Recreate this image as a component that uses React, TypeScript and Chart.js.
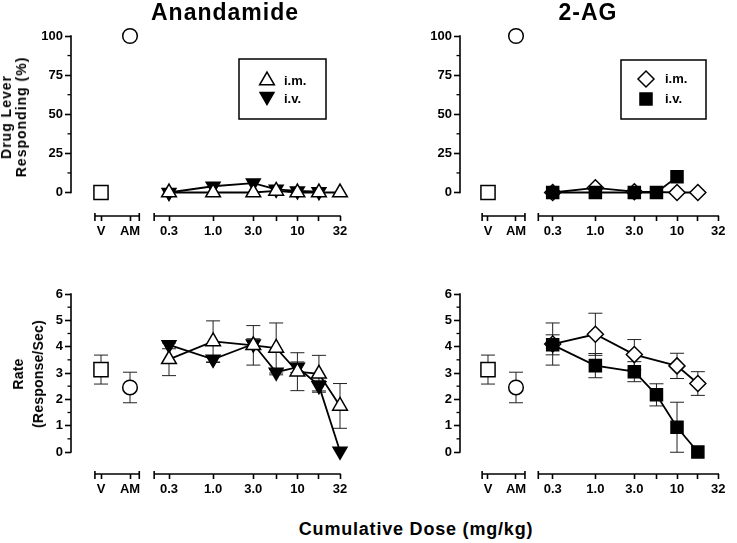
import React, { useEffect, useRef } from 'react';
import { Chart, registerables } from 'chart.js';
import { drawPoint } from 'chart.js/helpers';

Chart.register(...registerables);

const FONT = "'Liberation Sans', Arial, Helvetica, sans-serif";
Chart.defaults.font.family = FONT;
Chart.defaults.color = '#000';

// ---------------- data ----------------
const controlLabels = ['V', 'AM'];
const doseTickValues = [0.3, 1, 3, 5.6, 10, 18, 32];
const doseTickLabels = ['0.3', '1.0', '3.0', '', '10', '', '32'];
const drugTickValues = [0, 25, 50, 75, 100];
const drugMinorTicks = [12.5, 37.5, 62.5, 87.5];
const rateTickValues = [0, 1, 2, 3, 4, 5, 6];
const rateMinorTicks = [0.5, 1.5, 2.5, 3.5, 4.5, 5.5];

const controlDrug = [0, 100];
const controlRate = [3.13, 2.45];
const controlRateSem = [0.55, 0.58];

// Anandamide
const aeaImDoses = [0.3, 1, 3, 5.6, 10, 18, 32];
const aeaImDrug = [0, 0, 0, 1, 0, 0, 0];
const aeaImRate = [3.52, 4.2, 4.05, 3.95, 3.05, 2.97, 1.75];
const aeaImRateSem = [0.62, 0.78, 0.75, 0.95, 0.72, 0.7, 0.85];
const aeaIvDrugDoses = [0.3, 1, 3, 5.6, 10, 18];
const aeaIvDrug = [0, 4, 6, 2, 1, 0.5];
const aeaIvRateDoses = [0.3, 1, 3, 5.6, 10, 18, 32];
const aeaIvRate = [4.07, 3.52, 4.1, 3.03, 3.22, 2.52, 0.03];
const aeaIvRateSem = [0.15, 0.12, 0.2, 0.1, 0.2, 0.2, 0];

// 2-AG
const agImDoses = [0.3, 1, 3, 10, 18];
const agImDrug = [0, 3, 0.5, 0, 0];
const agImRate = [4.1, 4.47, 3.7, 3.27, 2.6];
const agImRateSem = [0.8, 0.8, 0.57, 0.48, 0.45];
const agIvDrugDoses = [0.3, 1, 3, 5.6, 10];
const agIvDrug = [0, 0, 0, 0, 10];
const agIvRateDoses = [0.3, 1, 3, 5.6, 10, 18];
const agIvRate = [4.07, 3.28, 3.05, 2.17, 0.94, 0];
const agIvRateSem = [0.38, 0.46, 0.38, 0.42, 0.95, 0];

// ---------------- styles / layout ----------------
const markerAeaIm = { style: 'triangle', rotation: 0, radius: 8.5, fill: '#ffffff' };
const markerAeaIv = { style: 'triangle', rotation: 180, radius: 8, fill: '#000000' };
const markerAgIm = { style: 'rectRot', rotation: 0, radius: 8, fill: '#ffffff' };
const markerAgIv = { style: 'rect', rotation: 0, radius: 8.5, fill: '#000000' };
const controlMarkers = [
  { style: 'rect', radius: 10 },
  { style: 'circle', radius: 7.3 },
];

const colLeft = { canvasLeft: 0, width: 368, yAxisX: 71, vPx: 101, amPx: 130, splitPx: 146, dose03Px: 169, dose32Px: 340, chartRight: 350 };
const colRight = { canvasLeft: 368, width: 369, yAxisX: 460, vPx: 489, amPx: 518, splitPx: 535, dose03Px: 556, dose32Px: 727.5, chartRight: 735 };
const rowTop = { canvasTop: 0, height: 250, yTopPx: 36, yZeroPx: 192.5, xAxisPx: 216 };
const rowBottom = { canvasTop: 250, height: 262, yTopPx: 294, yZeroPx: 452, xAxisPx: 474 };

const controlAxisRange = [-0.21, 1.32];
const doseAxisStart = 0.2;

const legendLeft = { box: [239, 59, 326, 119], markerX: 267, textX: 284, markerY: [80.5, 96.5], textY: [81, 99.5] };
const legendRight = { box: [621, 60, 706, 119], markerX: 646, textX: 665, markerY: [79, 99], textY: [79.5, 99.5] };

const panels: any[] = [
  {
    key: 'aea-drug', col: colLeft, row: rowTop, yTicks: drugTickValues, yMinor: drugMinorTicks,
    control: controlDrug, controlSem: null, legend: legendLeft,
    series: [
      { label: 'i.m.', doses: aeaImDoses, values: aeaImDrug, sem: null, marker: markerAeaIm, order: 0 },
      { label: 'i.v.', doses: aeaIvDrugDoses, values: aeaIvDrug, sem: null, marker: markerAeaIv, order: 1 },
    ],
  },
  {
    key: 'ag-drug', col: colRight, row: rowTop, yTicks: drugTickValues, yMinor: drugMinorTicks,
    control: controlDrug, controlSem: null, legend: legendRight,
    series: [
      { label: 'i.m.', doses: agImDoses, values: agImDrug, sem: null, marker: markerAgIm, order: 1 },
      { label: 'i.v.', doses: agIvDrugDoses, values: agIvDrug, sem: null, marker: markerAgIv, order: 0 },
    ],
  },
  {
    key: 'aea-rate', col: colLeft, row: rowBottom, yTicks: rateTickValues, yMinor: rateMinorTicks,
    control: controlRate, controlSem: controlRateSem, legend: null,
    series: [
      { label: 'i.m.', doses: aeaImDoses, values: aeaImRate, sem: aeaImRateSem, marker: markerAeaIm, order: 0 },
      { label: 'i.v.', doses: aeaIvRateDoses, values: aeaIvRate, sem: aeaIvRateSem, marker: markerAeaIv, order: 1 },
    ],
  },
  {
    key: 'ag-rate', col: colRight, row: rowBottom, yTicks: rateTickValues, yMinor: rateMinorTicks,
    control: controlRate, controlSem: controlRateSem, legend: null,
    series: [
      { label: 'i.m.', doses: agImDoses, values: agImRate, sem: agImRateSem, marker: markerAgIm, order: 1 },
      { label: 'i.v.', doses: agIvRateDoses, values: agIvRate, sem: agIvRateSem, marker: markerAgIv, order: 0 },
    ],
  },
];

function makeDecor(p: any) {
  const cl = p.col.canvasLeft;
  const ct = p.row.canvasTop;
  return {
    id: 'decor',
    beforeDatasetsDraw(chart: any) {
      const ctx = chart.ctx;
      const ys = chart.scales.y;
      const xc = chart.scales.xc;
      const xd = chart.scales.xd;
      const area = chart.chartArea;
      const seg = (x1: number, y1: number, x2: number, y2: number) => {
        ctx.beginPath();
        ctx.moveTo(x1, y1);
        ctx.lineTo(x2, y2);
        ctx.stroke();
      };
      ctx.save();
      ctx.strokeStyle = '#000';
      ctx.lineWidth = 1.6;
      const ax = area.left;
      const last = p.yTicks[p.yTicks.length - 1];
      seg(ax, ys.getPixelForValue(p.yTicks[0]) + 0.8, ax, ys.getPixelForValue(last) - 0.8);
      ctx.lineWidth = 1.3;
      p.yMinor.forEach((v: number) => {
        const py = ys.getPixelForValue(v);
        seg(ax - 3.5, py, ax, py);
      });
      ctx.lineWidth = 1.6;
      const by = area.bottom;
      const c1 = xc.getPixelForValue(controlAxisRange[0]);
      const c2 = xc.getPixelForValue(controlAxisRange[1]);
      seg(c1, by, c2, by);
      seg(c1, by - 3, c1, by + 5);
      seg(c2, by - 3, c2, by + 5);
      const d1 = xd.getPixelForValue(doseAxisStart);
      const d2 = xd.getPixelForValue(doseTickValues[doseTickValues.length - 1]);
      seg(d1, by, d2 + 0.8, by);
      seg(d1, by - 3, d1, by + 5);

      // error bars (SEM)
      ctx.lineWidth = 1;
      ctx.strokeStyle = '#222';
      chart.data.datasets.forEach((ds: any, i: number) => {
        const sem = ds.sem;
        if (!sem) return;
        const meta = chart.getDatasetMeta(i);
        meta.data.forEach((el: any, j: number) => {
          const e = sem[j];
          if (!e) return;
          const v = ds.data[j].y;
          const t = ys.getPixelForValue(v + e);
          const b = ys.getPixelForValue(v - e);
          seg(el.x, t, el.x, b);
          seg(el.x - 7, t, el.x + 7, t);
          seg(el.x - 7, b, el.x + 7, b);
        });
      });
      ctx.restore();
    },
    afterDatasetsDraw(chart: any) {
      const lg = p.legend;
      if (!lg) return;
      const ctx = chart.ctx;
      ctx.save();
      ctx.lineWidth = 1.5;
      ctx.strokeStyle = '#000';
      ctx.strokeRect(lg.box[0] - cl, lg.box[1] - ct, lg.box[2] - lg.box[0], lg.box[3] - lg.box[1]);
      const items = chart.data.datasets.filter((d: any) => d.inLegend);
      items.forEach((ds: any, k: number) => {
        ctx.fillStyle = ds.pointBackgroundColor;
        ctx.strokeStyle = '#000';
        ctx.lineWidth = ds.pointBorderWidth;
        drawPoint(ctx, {
          pointStyle: ds.pointStyle,
          rotation: ds.pointRotation,
          radius: ds.pointRadius,
          borderWidth: ds.pointBorderWidth,
        } as any, lg.markerX - cl, lg.markerY[k] - ct);
        ctx.fillStyle = '#000';
        ctx.font = `bold 13px ${FONT}`;
        ctx.textAlign = 'left';
        ctx.textBaseline = 'middle';
        ctx.fillText(ds.label, lg.textX - cl, lg.textY[k] - ct);
      });
      ctx.restore();
    },
  };
}

function buildConfig(p: any): any {
  const { col, row } = p;
  const cl = col.canvasLeft;
  const ct = row.canvasTop;
  const yMax = p.yTicks[p.yTicks.length - 1];
  const yPer = (row.yZeroPx - row.yTopPx) / yMax;
  const yMin = -(row.xAxisPx - row.yZeroPx) / yPer;
  const cPer = col.amPx - col.vPx;
  const cMin = -(col.vPx - col.yAxisX) / cPer;
  const cMax = (col.splitPx - col.vPx) / cPer;
  const lo = Math.log10(doseTickValues[0]);
  const hi = Math.log10(doseTickValues[doseTickValues.length - 1]);
  const dPer = (col.dose32Px - col.dose03Px) / (hi - lo);
  const dMin = Math.pow(10, lo - (col.dose03Px - col.splitPx) / dPer);
  const dMax = Math.pow(10, hi + (col.chartRight - col.dose32Px) / dPer);
  const xH = ct + row.height - row.xAxisPx;
  const tickFont = { family: FONT, size: 13, weight: 'bold' };
  const xGrid = { drawOnChartArea: false, drawTicks: true, tickLength: 5, tickColor: '#000', tickWidth: 1.6 };

  const datasets: any[] = p.series.map((s: any) => ({
    type: 'line',
    label: s.label,
    xAxisID: 'xd',
    yAxisID: 'y',
    data: s.doses.map((d: number, i: number) => ({ x: d, y: s.values[i] })),
    sem: s.sem,
    inLegend: true,
    order: s.order,
    borderColor: '#000',
    borderWidth: 1.8,
    tension: 0,
    fill: false,
    clip: false,
    pointStyle: s.marker.style,
    pointRotation: s.marker.rotation,
    pointRadius: s.marker.radius,
    pointHoverRadius: s.marker.radius,
    pointBackgroundColor: s.marker.fill,
    pointBorderColor: '#000',
    pointBorderWidth: 1.5,
    pointHoverBorderWidth: 1.5,
  }));
  datasets.push({
    type: 'line',
    label: 'controls',
    xAxisID: 'xc',
    yAxisID: 'y',
    data: p.control.map((v: number, i: number) => ({ x: i, y: v })),
    sem: p.controlSem,
    inLegend: false,
    order: 5,
    showLine: false,
    clip: false,
    borderColor: '#000',
    pointStyle: controlMarkers.map((m) => m.style),
    pointRadius: controlMarkers.map((m) => m.radius),
    pointHoverRadius: controlMarkers.map((m) => m.radius),
    pointBackgroundColor: '#fff',
    pointBorderColor: '#000',
    pointBorderWidth: 1.5,
  });

  return {
    type: 'line',
    data: { datasets },
    options: {
      animation: false,
      responsive: false,
      devicePixelRatio: 1,
      events: [],
      layout: {
        padding: { top: row.yTopPx - ct, bottom: 0, left: 0, right: cl + col.width - col.chartRight },
      },
      plugins: { legend: { display: false }, tooltip: { enabled: false }, title: { display: false } },
      scales: {
        y: {
          type: 'linear',
          position: 'left',
          min: yMin,
          max: yMax,
          bounds: 'data',
          afterBuildTicks: (s: any) => { s.ticks = p.yTicks.map((v: number) => ({ value: v })); },
          afterFit: (s: any) => { s.width = col.yAxisX - cl; s.paddingTop = 0; s.paddingBottom = 0; },
          ticks: { font: tickFont, color: '#000', padding: 2, autoSkip: false, callback: (v: any) => String(v) },
          grid: { drawOnChartArea: false, drawTicks: true, tickLength: 6, tickColor: '#000', tickWidth: 1.6 },
          border: { display: false },
        },
        xc: {
          type: 'linear',
          position: 'bottom',
          stack: 'x',
          stackWeight: col.splitPx - col.yAxisX,
          min: cMin,
          max: cMax,
          bounds: 'data',
          afterBuildTicks: (s: any) => { s.ticks = controlLabels.map((_, i) => ({ value: i })); },
          afterFit: (s: any) => { s.height = xH; s.paddingLeft = 0; s.paddingRight = 0; },
          ticks: { font: tickFont, color: '#000', padding: 3, autoSkip: false, maxRotation: 0, minRotation: 0, callback: (_v: any, i: number) => controlLabels[i] },
          grid: xGrid,
          border: { display: false },
        },
        xd: {
          type: 'logarithmic',
          position: 'bottom',
          stack: 'x',
          stackWeight: col.chartRight - col.splitPx,
          min: dMin,
          max: dMax,
          bounds: 'data',
          afterBuildTicks: (s: any) => { s.ticks = doseTickValues.map((v) => ({ value: v })); },
          afterFit: (s: any) => { s.height = xH; s.paddingLeft = 0; s.paddingRight = 0; },
          ticks: { font: tickFont, color: '#000', padding: 3, autoSkip: false, maxRotation: 0, minRotation: 0, callback: (_v: any, i: number) => doseTickLabels[i] },
          grid: xGrid,
          border: { display: false },
        },
      },
    },
    plugins: [makeDecor(p)],
  };
}

function Panel({ p }: { p: any }) {
  const ref = useRef<HTMLCanvasElement>(null);
  useEffect(() => {
    if (!ref.current) return;
    const chart = new Chart(ref.current, buildConfig(p));
    return () => chart.destroy();
  }, [p]);
  return (
    <canvas
      ref={ref}
      width={p.col.width}
      height={p.row.height}
      style={{ position: 'absolute', left: p.col.canvasLeft, top: p.row.canvasTop, width: p.col.width, height: p.row.height }}
    />
  );
}

const textBase: React.CSSProperties = { position: 'absolute', whiteSpace: 'nowrap', color: '#000', fontFamily: FONT, fontWeight: 'bold' };

export default function App() {
  return (
    <div style={{ position: 'absolute', left: 0, top: 0, width: 737, height: 543, background: '#fff', overflow: 'hidden' }}>
      {panels.map((p) => <Panel key={p.key} p={p} />)}
      <div style={{ ...textBase, left: 225, top: 0.5, transform: 'translateX(-50%)', fontSize: 23, lineHeight: '23px', letterSpacing: '1px' }}>Anandamide</div>
      <div style={{ ...textBase, left: 588, top: 0.5, transform: 'translateX(-50%)', fontSize: 23, lineHeight: '23px', letterSpacing: '1px' }}>2-AG</div>
      <div style={{ ...textBase, left: 14, top: 117, transform: 'translate(-50%, -50%) rotate(-90deg)', fontSize: 14, lineHeight: '15px', letterSpacing: '1px', textAlign: 'center' }}>Drug Lever<br />Responding (%)</div>
      <div style={{ ...textBase, left: 28, top: 374, transform: 'translate(-50%, -50%) rotate(-90deg)', fontSize: 14, lineHeight: '20px', letterSpacing: '0.2px', textAlign: 'center' }}>Rate<br />(Response/Sec)</div>
      <div style={{ ...textBase, left: 416, top: 520, transform: 'translateX(-50%)', fontSize: 18, lineHeight: '18px', letterSpacing: '0.8px' }}>Cumulative Dose (mg/kg)</div>
    </div>
  );
}
